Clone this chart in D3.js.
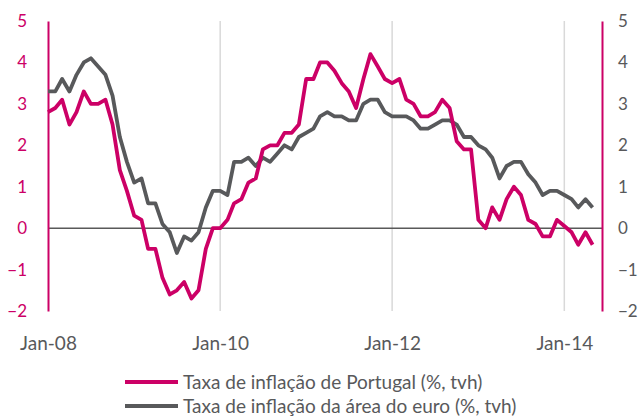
<!DOCTYPE html>
<html>
<head>
<meta charset="utf-8">
<script src="https://cdn.jsdelivr.net/npm/d3@7"></script>
<style>
    body { margin: 0; background: #fff; }
    text { font-family: Lato, "Open Sans", sans-serif; }
</style>
</head>
<body>
<svg id="chart" width="639" height="416"></svg>
<script>
// monthly, Jan-08 .. May-14
const startYear = 2008;
const portugal = [
    2.8, 2.9, 3.1, 2.5, 2.8, 3.3, 3.0, 3.0, 3.1, 2.5, 1.4, 0.9,
    0.3, 0.2, -0.5, -0.5, -1.2, -1.6, -1.5, -1.3, -1.7, -1.5, -0.5, 0.0,
    0.0, 0.2, 0.6, 0.7, 1.1, 1.2, 1.9, 2.0, 2.0, 2.3, 2.3, 2.5,
    3.6, 3.6, 4.0, 4.0, 3.8, 3.5, 3.3, 2.9, 3.6, 4.2, 3.9, 3.6,
    3.5, 3.6, 3.1, 3.0, 2.7, 2.7, 2.8, 3.1, 2.9, 2.1, 1.9, 1.9,
    0.2, 0.0, 0.5, 0.2, 0.7, 1.0, 0.8, 0.2, 0.1, -0.2, -0.2, 0.2,
    0.05, -0.1, -0.4, -0.1, -0.4
];
const euroArea = [
    3.3, 3.3, 3.6, 3.3, 3.7, 4.0, 4.1, 3.9, 3.7, 3.2, 2.2, 1.6,
    1.1, 1.2, 0.6, 0.6, 0.1, -0.1, -0.6, -0.2, -0.3, -0.1, 0.5, 0.9,
    0.9, 0.8, 1.6, 1.6, 1.7, 1.5, 1.7, 1.6, 1.8, 2.0, 1.9, 2.2,
    2.3, 2.4, 2.7, 2.8, 2.7, 2.7, 2.6, 2.6, 3.0, 3.1, 3.1, 2.8,
    2.7, 2.7, 2.7, 2.6, 2.4, 2.4, 2.5, 2.6, 2.6, 2.5, 2.2, 2.2,
    2.0, 1.9, 1.7, 1.2, 1.5, 1.6, 1.6, 1.3, 1.1, 0.8, 0.9, 0.9,
    0.8, 0.7, 0.5, 0.7, 0.5
];
const yTicks = [-2, -1, 0, 1, 2, 3, 4, 5];
const xTickYears = [2008, 2010, 2012, 2014];
const seriesNames = ["Taxa de inflação de Portugal (%, tvh)", "Taxa de inflação da área do euro (%, tvh)"];

const pink = "#cc0066", grey = "#58595b";

let svg = d3.select("#chart");

let x = d3.scaleTime()
    .domain([new Date(startYear, 0, 1), new Date(2014, 5, 10)])
    .range([48, 602]);
let y = d3.scaleLinear().domain([-2, 5]).range([311, 21]);

let monthDate = i => new Date(startYear, i, 1);

// vertical grid lines
svg.append("g")
    .selectAll("line")
    .data(xTickYears.slice(1))
    .enter()
    .append("line")
    .attr("x1", d => x(new Date(d, 0, 1)))
    .attr("x2", d => x(new Date(d, 0, 1)))
    .attr("y1", y(5))
    .attr("y2", y(-2))
    .attr("stroke", "#d9d9d9")
    .attr("stroke-width", 1.5);

// zero line
svg.append("line")
    .attr("x1", x.range()[0]).attr("x2", x.range()[1])
    .attr("y1", y(0)).attr("y2", y(0))
    .attr("stroke", "#595959")
    .attr("stroke-width", 1.5);

// left axis
let leftAxis = svg.append("g")
    .attr("transform", `translate(${x.range()[0]},0)`)
    .call(d3.axisLeft(y).tickValues(yTicks).tickSize(0).tickPadding(21).tickFormat(d3.format("d")));
leftAxis.select(".domain").attr("stroke", pink).attr("stroke-width", 2);
leftAxis.selectAll("text").attr("fill", pink).style("font-size", "17px");

// right axis
let rightAxis = svg.append("g")
    .attr("transform", `translate(${x.range()[1]},0)`)
    .call(d3.axisRight(y).tickValues(yTicks).tickSize(0).tickPadding(16).tickFormat(d3.format("d")));
rightAxis.select(".domain").attr("stroke", pink).attr("stroke-width", 2);
rightAxis.selectAll("text").attr("fill", grey).style("font-size", "17px");

// x axis labels
let bottomAxis = svg.append("g")
    .attr("transform", `translate(0,${y(-2)})`)
    .call(d3.axisBottom(x)
        .tickValues(xTickYears.map(d => new Date(d, 0, 1)))
        .tickSize(0).tickPadding(26)
        .tickFormat(d3.timeFormat("Jan-%y")));
bottomAxis.select(".domain").remove();
bottomAxis.selectAll("text").attr("fill", grey).style("font-size", "19px");

// lines
let line = d3.line()
    .x((d, i) => x(monthDate(i)))
    .y(d => y(d));

[[euroArea, grey], [portugal, pink]].forEach(s => {
    svg.append("path")
        .datum(s[0])
        .attr("d", line)
        .attr("fill", "none")
        .attr("stroke", s[1])
        .attr("stroke-width", 3.8)
        .attr("stroke-linejoin", "round");
});

// legend
let legend = svg.append("g");
let items = legend.selectAll("g")
    .data(seriesNames)
    .enter()
    .append("g")
    .attr("transform", (d, i) => `translate(125,${382 + i * 24})`);
items.append("line")
    .attr("x1", 0).attr("x2", 53)
    .attr("stroke", (d, i) => i == 0 ? pink : grey)
    .attr("stroke-width", 3.8);
items.append("text")
    .attr("x", 58)
    .attr("y", 7)
    .attr("fill", grey)
    .style("font-size", "19px")
    .text(d => d);
</script>
</body>
</html>
